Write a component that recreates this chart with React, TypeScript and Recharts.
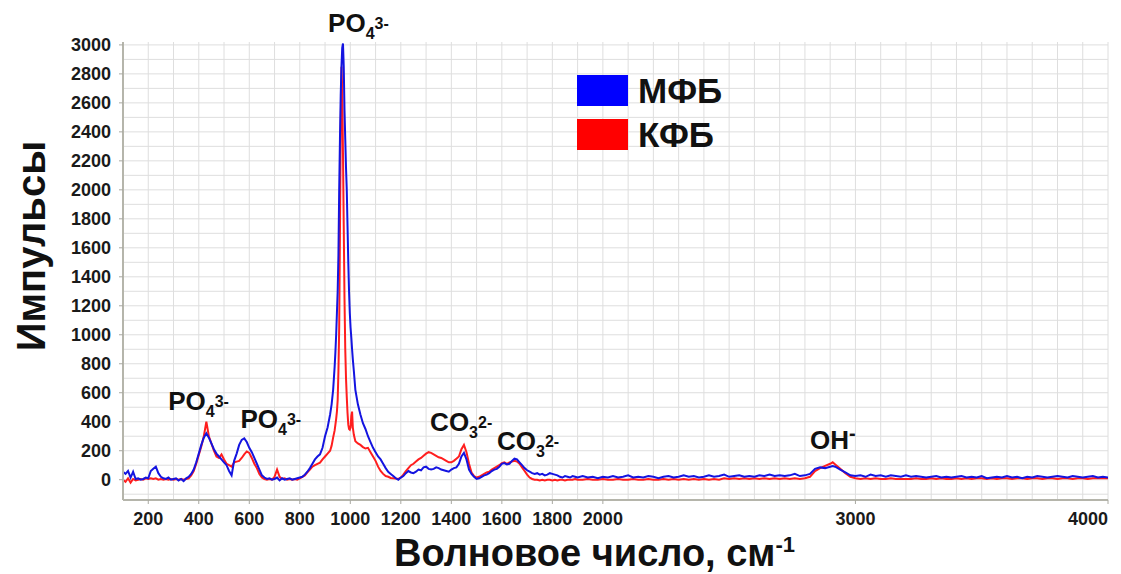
import { CartesianGrid, Label, Legend, Line, LineChart, ReferenceDot, XAxis, YAxis } from "recharts"

type Row = [number, number, number]

// [wavenumber, МФБ, КФБ]
const lowBand: Row[] = [
    [100, 55, 0], [110, 40, -15], [120, 60, 10], [130, 15, -20], [140, 55, 5],
    [150, 5, -5], [160, 10, 0], [170, 0, 5], [180, 5, 0], [190, 15, 10],
    [200, 10, 5], [210, 60, 10], [220, 75, 5], [230, 90, 10], [240, 45, 0],
    [250, 20, 5], [260, 10, 0], [270, 5, 5], [280, 15, 0], [290, 0, 5],
    [300, 5, 0], [310, 10, 5], [320, -5, 0], [330, 5, 5], [340, -10, 0],
    [350, 10, 5], [360, 20, 10], [370, 40, 30], [380, 70, 60], [390, 120, 110],
    [400, 180, 170], [410, 240, 230], [420, 290, 300], [430, 320, 400], [440, 290, 300],
    [450, 250, 250], [460, 210, 200], [470, 180, 160], [480, 160, 150], [490, 140, 175],
    [500, 120, 140], [510, 100, 110], [520, 60, 100], [530, 30, 90], [540, 130, 120],
    [550, 180, 125], [560, 240, 130], [570, 275, 150], [580, 285, 175], [590, 260, 195],
    [600, 220, 185], [610, 190, 150], [620, 150, 110], [630, 110, 80], [640, 70, 40],
    [650, 30, 15], [660, 15, 5], [670, 5, 0], [680, 10, 5], [690, 0, 0],
    [700, 5, 20], [710, 15, 70], [720, -5, 20], [730, 10, 5], [740, 0, 10],
    [750, 5, 0], [760, 10, 5], [770, 0, 0], [780, 5, 5], [790, 10, 0],
    [800, 15, 10],
]

const shoulderBand: Row[] = [
    [810, 20, 20], [820, 35, 30], [830, 55, 50], [840, 80, 70], [850, 110, 90],
    [860, 140, 100], [870, 160, 110], [880, 175, 118], [890, 220, 140], [900, 300, 160],
    [910, 360, 180],
]

const peakBand: Row[] = [
    [920, 450, 200], [926, 520, 235], [932, 620, 290], [938, 780, 340], [941, 880, 380],
    [944, 1000, 420], [947, 1150, 470], [950, 1300, 550], [953, 1550, 750], [956, 2000, 1050],
    [959, 2350, 1700], [962, 2650, 2400], [965, 2850, 2850], [968, 2980, 2700], [971, 3010, 2250],
    [974, 2850, 1750], [977, 2550, 1250], [980, 2350, 900], [983, 2150, 700], [986, 2000, 570],
    [989, 1750, 460], [992, 1500, 380], [995, 1300, 350], [998, 1150, 345], [1001, 1050, 360],
    [1004, 980, 440], [1007, 900, 470], [1010, 830, 360], [1014, 750, 310], [1020, 620, 265],
]

const tailBand: Row[] = [
    [1030, 520, 250], [1040, 450, 240], [1050, 390, 225], [1060, 350, 215], [1070, 300, 220],
    [1080, 260, 190], [1090, 220, 160], [1100, 190, 130], [1110, 160, 90], [1120, 140, 60],
    [1130, 110, 40], [1140, 80, 25], [1150, 55, 20], [1160, 40, 12], [1170, 25, 10],
    [1180, 10, 8], [1190, 0, 5],
]

const carbonateBand: Row[] = [
    [1200, 15, 15], [1210, 25, 35], [1220, 45, 60], [1230, 60, 80], [1240, 50, 100],
    [1250, 45, 110], [1260, 55, 125], [1270, 70, 140], [1280, 65, 150], [1290, 85, 165],
    [1300, 90, 180], [1310, 75, 190], [1320, 70, 185], [1330, 75, 175], [1340, 85, 165],
    [1350, 80, 155], [1360, 70, 150], [1370, 65, 140], [1380, 60, 130], [1390, 55, 120],
    [1400, 70, 120], [1410, 80, 130], [1420, 85, 145], [1430, 110, 160], [1440, 160, 210],
    [1450, 185, 240], [1460, 140, 190], [1470, 70, 110], [1480, 40, 50], [1490, 20, 25],
    [1500, 5, 15], [1510, 10, 20], [1520, 20, 30], [1530, 30, 40], [1540, 35, 50],
    [1550, 45, 55], [1560, 60, 70], [1570, 70, 80], [1580, 75, 90], [1590, 90, 100],
    [1600, 110, 115], [1610, 115, 120], [1620, 105, 110], [1630, 110, 120], [1640, 130, 125],
    [1650, 145, 130], [1660, 140, 125], [1670, 120, 110], [1680, 100, 85], [1690, 80, 60],
    [1700, 65, 35], [1710, 55, 15], [1720, 45, 5], [1730, 40, 0], [1740, 45, 0],
    [1750, 35, -5], [1760, 40, 0], [1770, 30, -5], [1780, 35, 0], [1790, 45, 0],
    [1800, 40, -5], [1810, 35, 0], [1820, 30, -5], [1830, 20, 0], [1840, 15, 0],
    [1850, 25, -5], [1860, 20, 0], [1870, 15, 0], [1880, 25, 0], [1890, 20, 5],
    [1900, 15, 0], [1920, 25, 0], [1940, 15, 5], [1960, 20, 0], [1980, 10, 0],
    [2000, 20, 5],
]

const highBand: Row[] = [
    [2020, 15, 0], [2040, 25, 0], [2060, 15, 5], [2080, 20, 0], [2100, 30, 0],
    [2120, 15, 5], [2140, 20, 0], [2160, 15, 0], [2180, 25, 5], [2200, 20, 0],
    [2220, 10, 0], [2240, 20, 5], [2260, 25, 0], [2280, 15, 5], [2300, 20, 0],
    [2320, 30, 5], [2340, 20, 0], [2360, 25, 5], [2380, 15, 0], [2400, 20, 5],
    [2420, 30, 0], [2440, 20, 5], [2460, 25, 0], [2480, 35, 10], [2500, 20, 5],
    [2520, 25, 10], [2540, 30, 5], [2560, 20, 10], [2580, 25, 5], [2600, 20, 10],
    [2620, 30, 5], [2640, 25, 10], [2660, 35, 5], [2680, 25, 10], [2700, 30, 5],
    [2720, 25, 10], [2740, 30, 5], [2760, 40, 10], [2780, 25, 5], [2800, 30, 10],
    [2820, 40, 20], [2840, 75, 60], [2860, 85, 80], [2880, 80, 95], [2900, 90, 110],
    [2910, 95, 120], [2920, 90, 105], [2940, 70, 75], [2960, 50, 45], [2980, 30, 20],
    [3000, 25, 10], [3020, 30, 5], [3040, 20, 10], [3060, 35, 5], [3080, 25, 10],
    [3100, 30, 5], [3120, 20, 5], [3140, 30, 10], [3160, 25, 5], [3180, 20, 5],
    [3200, 30, 5], [3220, 20, 5], [3240, 25, 10], [3260, 20, 5], [3280, 15, 5],
    [3300, 20, 10], [3320, 25, 5], [3340, 15, 10], [3360, 20, 5], [3380, 15, 5],
    [3400, 20, 10], [3420, 25, 5], [3440, 15, 10], [3460, 20, 5], [3480, 15, 10],
    [3500, 25, 10], [3520, 10, 5], [3540, 15, 10], [3560, 20, 5], [3580, 15, 10],
    [3600, 25, 10], [3620, 15, 5], [3640, 20, 10], [3660, 10, 10], [3680, 20, 5],
    [3700, 15, 10], [3720, 25, 10], [3740, 20, 5], [3760, 15, 10], [3780, 20, 10],
    [3800, 25, 5], [3820, 20, 10], [3840, 15, 10], [3860, 25, 5], [3880, 20, 10],
    [3900, 15, 10], [3920, 20, 5], [3940, 25, 10], [3960, 15, 10], [3980, 20, 10],
    [4000, 15, 10],
]

const xTicks = [200, 400, 600, 800, 1000, 1200, 1400, 1600, 1800, 2000, 3000, 4000]
const yTicks = [0, 200, 400, 600, 800, 1000, 1200, 1400, 1600, 1800, 2000, 2200, 2400, 2600, 2800, 3000]

// band labels: anchor is the start of the text baseline, in data units
const ionLabels = [
    { x: 912, y: 3090, base: "PO", sub: "4", sup: "3-" },
    { x: 279, y: 483, base: "PO", sub: "4", sup: "3-" },
    { x: 565, y: 359, base: "PO", sub: "4", sup: "3-" },
    { x: 1316, y: 333, base: "CO", sub: "3", sup: "2-" },
    { x: 1581, y: 207, base: "CO", sub: "3", sup: "2-" },
    { x: 2820, y: 212, base: "OH", sub: "", sup: "-" },
]

const spectrum = [...lowBand, ...shoulderBand, ...peakBand, ...tailBand, ...carbonateBand, ...highBand]
    .map(([x, mfb, kfb]) => ({ x, mfb, kfb }))

// light grid every 100 units
const gridX = Array.from({ length: 40 }, (_, i) => 100 + i * 100)
const gridY = Array.from({ length: 32 }, (_, i) => -100 + i * 100)

const FONT = "Arial, 'Liberation Sans', sans-serif"
const BLUE = "#1414e0"
const RED = "#ff1e1e"

function XTick({ x, y, payload }: any) {
    return (
        <text x={x} y={y} dy={19} textAnchor={payload.value === 4000 ? "end" : "middle"}
            fontFamily={FONT} fontSize={18} fontWeight="bold" fill="#1a1a1a">
            {payload.value}
        </text>
    )
}

function YTick({ x, y, payload }: any) {
    return (
        <text x={x} y={y} dy={6} textAnchor="end" fontFamily={FONT} fontSize={18} fontWeight="bold" fill="#1a1a1a">
            {payload.value}
        </text>
    )
}

function IonLabel({ cx, cy, base, sub, sup }: any) {
    return (
        <text x={cx} y={cy} fontFamily={FONT} fontSize={26} fontWeight="bold" fill="#111">
            {base}
            {sub && <tspan fontSize={16} dy={7}>{sub}</tspan>}
            <tspan fontSize={sub ? 16 : 20} dy={sub ? -10 : -9}>{sup}</tspan>
        </text>
    )
}

function XTitle({ viewBox }: any) {
    const cx = viewBox.x + viewBox.width / 2 - 21
    return (
        <text x={cx} y={viewBox.y + 66} textAnchor="middle" fontFamily={FONT} fontSize={38} fontWeight="bold" fill="#111">
            Волновое число, см<tspan fontSize={22} dy={-14}>-1</tspan>
        </text>
    )
}

function YTitle({ viewBox }: any) {
    const cy = viewBox.y + viewBox.height / 2 - 25
    return (
        <text x={45} y={cy} transform={`rotate(-90, 45, ${cy})`} textAnchor="middle"
            fontFamily={FONT} fontSize={40} fontWeight="bold" fill="#111">
            Импульсы
        </text>
    )
}

function SeriesLegend({ payload }: any) {
    const order = ["mfb", "kfb"]
    const items = [...(payload ?? [])].sort((a: any, b: any) => order.indexOf(a.dataKey) - order.indexOf(b.dataKey))
    return (
        <div>
            {items.map((item: any, i: number) => (
                <div key={item.dataKey} style={{ display: "flex", alignItems: "center", height: 31, marginBottom: i === 0 ? 13 : 0 }}>
                    <div style={{ width: 51, height: 31, background: item.dataKey === "mfb" ? "#0000ff" : "#ff0000" }} />
                    <span style={{ marginLeft: 10, fontFamily: FONT, fontSize: 35, fontWeight: "bold", color: "#111", lineHeight: "31px" }}>
                        {item.value}
                    </span>
                </div>
            ))}
        </div>
    )
}

export default function App() {
    return (
        <div style={{ position: "absolute", left: 0, top: 0, background: "#fff" }}>
            <LineChart width={1121} height={574} data={spectrum} margin={{ top: 42, right: 13, bottom: 0, left: 0 }}>
                <CartesianGrid stroke="#dedede" strokeWidth={1} verticalValues={gridX} horizontalValues={gridY} />
                <XAxis dataKey="x" type="number" domain={[100, 4000]} ticks={xTicks} interval={0} allowDataOverflow
                    height={74} tickSize={4} tickMargin={2} tick={<XTick />}
                    tickLine={{ stroke: "#a8a8a0" }} axisLine={{ stroke: "#b5b5ab", strokeWidth: 2 }}>
                    <Label content={<XTitle />} />
                </XAxis>
                <YAxis type="number" domain={[-140, 3020]} ticks={yTicks} interval={0} allowDataOverflow
                    width={123} tickSize={4} tickMargin={8} tick={<YTick />}
                    tickLine={{ stroke: "#a8a8a0" }} axisLine={{ stroke: "#b5b5ab", strokeWidth: 2 }}>
                    <Label content={<YTitle />} />
                </YAxis>
                <Line dataKey="kfb" name="КФБ" type="linear" stroke={RED} strokeWidth={2} dot={false} isAnimationActive={false} />
                <Line dataKey="mfb" name="МФБ" type="linear" stroke={BLUE} strokeWidth={2} dot={false} isAnimationActive={false} />
                {ionLabels.map((l, i) => (
                    <ReferenceDot key={i} x={l.x} y={l.y} r={0} ifOverflow="visible"
                        shape={(p: any) => <IonLabel cx={p.cx} cy={p.cy} base={l.base} sub={l.sub} sup={l.sup} />} />
                ))}
                <Legend layout="horizontal" verticalAlign="middle" align="center" content={<SeriesLegend />}
                    wrapperStyle={{ left: 577, top: 75, width: 220 }} />
            </LineChart>
        </div>
    )
}
